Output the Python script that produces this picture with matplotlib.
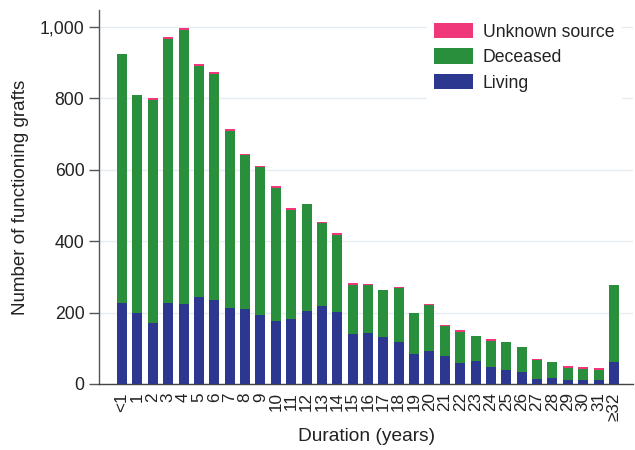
import matplotlib
matplotlib.use("Agg")
import matplotlib.pyplot as plt
import numpy as np

plt.rcParams['font.family'] = ['Liberation Sans', 'DejaVu Sans']

# Functioning grafts by duration, split by donor source
durations = ['<1'] + [str(i) for i in range(1, 32)] + ['≥32']
living = [227, 199, 171, 227, 224, 244, 235, 213, 210, 193, 177, 182, 205, 219,
          202, 140, 143, 132, 118, 84, 93, 79, 59, 64, 48, 39, 34, 14, 17, 11,
          11, 11, 62]
deceased = [698, 611, 626, 740, 769, 648, 633, 496, 431, 414, 373, 306, 300, 231,
            216, 138, 134, 130, 151, 115, 127, 84, 88, 71, 73, 79, 70, 53, 45, 34,
            31, 29, 216]
unknown = [0, 0, 5, 6, 5, 4, 7, 5, 4, 4, 5, 5, 0, 5, 5, 5, 3, 1, 4, 0, 4, 1, 4,
           0, 5, 0, 0, 3, 0, 5, 6, 5, 0]
y_ticks = [0, 200, 400, 600, 800, 1000]

C_LIVING = '#2c3890'
C_DECEASED = '#2a8f3c'
C_UNKNOWN = '#f0377a'

fig = plt.figure(figsize=(6.35, 4.5), dpi=100)
ax = fig.add_axes([0.156, 0.1467, 0.841, 0.8311])

x = np.arange(len(durations))
living_a = np.array(living)
deceased_a = np.array(deceased)
unknown_a = np.array(unknown)
w = 0.65
b1 = ax.bar(x, living_a, w, color=C_LIVING, label='Living', zorder=3)
b2 = ax.bar(x, deceased_a, w, bottom=living_a, color=C_DECEASED,
            label='Deceased', zorder=3)
b3 = ax.bar(x, unknown_a, w, bottom=living_a + deceased_a, color=C_UNKNOWN,
            label='Unknown source', zorder=3)

ax.set_xlim(-1.5, 33.25)
ax.set_ylim(0, 1048)
ax.set_yticks(y_ticks)
ax.set_yticklabels([f'{v:,}' for v in y_ticks])
ax.set_xticks(x)
ax.set_xticklabels(durations, rotation=90)

ax.yaxis.grid(True, color='#e6edf2', linewidth=1.0, zorder=0)
ax.set_axisbelow(True)

for s in ('top', 'right'):
    ax.spines[s].set_visible(False)
ax.spines['left'].set_color('#555555')
ax.spines['bottom'].set_color('#444444')
ax.spines['left'].set_linewidth(1.0)
ax.spines['bottom'].set_linewidth(1.0)

ax.tick_params(axis='y', direction='out', length=7, width=1, color='#555555',
               labelsize=12.7, labelcolor='#222222', pad=3.5)
ax.tick_params(axis='x', length=0, labelsize=12.3, labelcolor='#222222', pad=6)

ax.set_ylabel('Number of functioning grafts', fontsize=13.5, color='#222222',
              labelpad=8)
ax.set_xlabel('Duration (years)', fontsize=13.8, color='#222222', labelpad=5)

leg = ax.legend(handles=[b3, b2, b1], loc='upper left',
                bbox_to_anchor=(0.614, 0.984), fontsize=12.7,
                frameon=True, facecolor='white', edgecolor='white',
                framealpha=1.0, fancybox=False, borderpad=0.4,
                handlelength=2.2, handleheight=0.95, handletextpad=0.57,
                labelspacing=0.44, borderaxespad=0)
for t in leg.get_texts():
    t.set_color('#222222')

fig.savefig('out.png', dpi=100)
